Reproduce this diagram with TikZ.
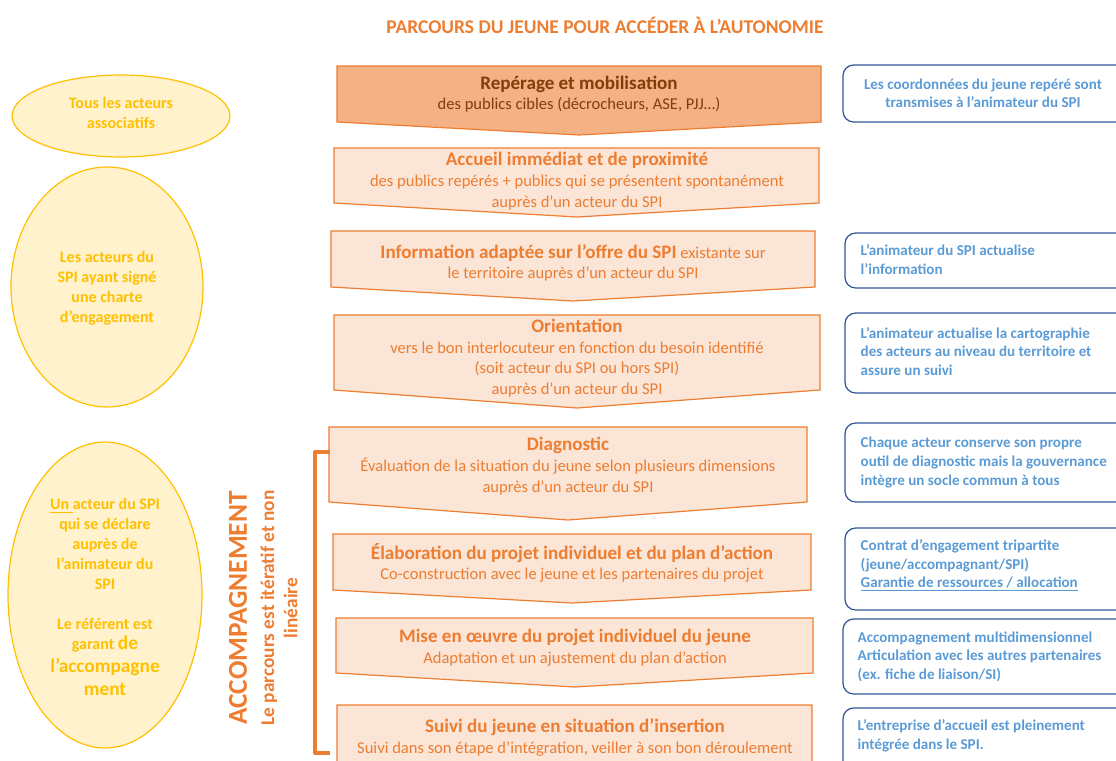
\documentclass[tikz,border=0pt]{standalone}
\usepackage{fontspec}
\setmainfont{Carlito}

\definecolor{orangeline}{HTML}{ED7D31}
\definecolor{orangefill}{HTML}{FBE5D6}
\definecolor{orangedark}{HTML}{F4B183}
\definecolor{brunfonce}{HTML}{843C0C}
\definecolor{jaune}{HTML}{FFC000}
\definecolor{jaunefill}{HTML}{FFF2CC}
\definecolor{bleuline}{HTML}{2F5597}
\definecolor{bleutext}{HTML}{5B9BD5}

\newcommand{\etape}[1]{{\fontsize{14.3}{16}\selectfont\bfseries #1}}

\tikzset{
	chev/.style={draw=orangeline, fill=orangefill, line width=0.9pt},
	chevtext/.style={text=orangeline, align=center, font=\fontsize{12.4}{15.5}\selectfont},
	ell/.style={draw=jaune, fill=jaunefill, line width=0.9pt},
	elltext/.style={text=jaune, align=center, font=\fontsize{12}{15}\selectfont\bfseries},
	infobox/.style={draw=bleuline, line width=0.9pt, rounded corners=8pt},
	infotext/.style={text=bleutext, align=left, font=\fontsize{11.3}{13.9}\selectfont\bfseries}
}

\begin{document}
\begin{tikzpicture}[x=0.75pt, y=-0.75pt]
	\useasboundingbox (0,0) rectangle (1116,760);
	\clip (0,0) rectangle (1116,760);
	% titre
	\node [text=orangeline, font=\fontsize{14.6}{16}\selectfont\bfseries] (titre) at (605,25) {PARCOURS DU JEUNE POUR ACCÉDER À L’AUTONOMIE};

	% les etapes
	\draw [chev, fill=orangedark] (337,66) -- (821,66) -- (821,122) -- (579,135) -- (337,122) -- cycle;
	\node [chevtext, text=brunfonce] (reperage) at (579,94) {\etape{Repérage et mobilisation}\\des publics cibles (décrocheurs, ASE, PJJ…)};

	\draw [chev] (334,148) -- (819,148) -- (819,203) -- (577,217) -- (334,203) -- cycle;
	\node [chevtext] (accueil) at (577,181) {\etape{Accueil immédiat et de proximité}\\des publics repérés + publics qui se présentent spontanément\\auprès d’un acteur du SPI};

	\draw [chev] (331,231) -- (815,231) -- (815,287) -- (573,301) -- (331,287) -- cycle;
	\node [chevtext] (information) at (573,263) {\etape{Information adaptée sur l’offre du SPI} existante sur\\le territoire auprès d’un acteur du SPI};

	\draw [chev] (334,315) -- (820,315) -- (820,390) -- (577,408) -- (334,390) -- cycle;
	\node [chevtext] (orientation) at (577,358) {\etape{Orientation}\\vers le bon interlocuteur en fonction du besoin identifié\\(soit acteur du SPI ou hors SPI)\\auprès d’un acteur du SPI};

	\draw [chev] (329,427) -- (807,427) -- (807,502) -- (568,520) -- (329,502) -- cycle;
	\node [chevtext] (diagnostic) at (568,466) {\etape{Diagnostic}\\Évaluation de la situation du jeune selon plusieurs dimensions\\auprès d’un acteur du SPI};

	\draw [chev] (333,534) -- (811,534) -- (811,590) -- (572,603) -- (333,590) -- cycle;
	\node [chevtext] (elaboration) at (572,563) {\etape{Élaboration du projet individuel et du plan d’action}\\Co-construction avec le jeune et les partenaires du projet};

	\draw [chev] (336,618) -- (813,618) -- (813,673) -- (575,687) -- (336,673) -- cycle;
	\node [chevtext] (miseenoeuvre) at (575,647.5) {\etape{Mise en œuvre du projet individuel du jeune}\\Adaptation et un ajustement du plan d’action};

	\draw [chev] (337,705) -- (812,705) -- (812,770) -- (575,785) -- (337,770) -- cycle;
	\node [chevtext] (suivi) at (575,737.5) {\etape{Suivi du jeune en situation d’insertion}\\Suivi dans son étape d’intégration, veiller à son bon déroulement};

	% accolade accompagnement
	\coordinate (bhaut) at (330,452);
	\coordinate (bbas) at (330,753);
	\draw [orangeline, line width=3pt, line join=round] (bhaut) -- (315,452) -- (315,753) -- (bbas);
	\node [rotate=90, text=orangeline, font=\fontsize{20.5}{22}\selectfont\bfseries] (accomp) at (238,608) {ACCOMPAGNEMENT};
	\node [rotate=90, text=orangeline, align=center, font=\fontsize{14.5}{17.3}\selectfont\bfseries] (iteratif) at (279,608) {Le parcours est itératif et non\\linéaire};

	% les acteurs
	\draw [ell] (121,116) ellipse [x radius=109, y radius=41];
	\node [elltext] (associatifs) at (121,112.5) {Tous les acteurs\\associatifs};
	\draw [ell] (107,287) ellipse [x radius=96, y radius=120];
	\node [elltext] (charte) at (107,288) {Les acteurs du\\SPI ayant signé\\une charte\\d’engagement};
	\draw [ell] (105,595) ellipse [x radius=97, y radius=153];
	\node [elltext] (referent) at (105,597) {\underline{Un }acteur du SPI\\qui se déclare\\auprès de\\l’animateur du\\SPI\\[15pt]Le référent est\\garant {\fontsize{14.5}{16}\selectfont de}\\[2pt]{\fontsize{14.5}{16}\selectfont l’accompagne}\\[2pt]{\fontsize{14.5}{16}\selectfont ment}};

	% role de l'animateur
	\draw [infobox] (843,65) rectangle (1140,122);
	\node [infotext, align=center] (coordonnees) at (983,93.5) {Les coordonnées du jeune repéré sont\\transmises à l’animateur du SPI};
	\draw [infobox] (845,233) rectangle (1140,288);
	\node [infotext, anchor=west] (actualise) at (856,259.5) {L’animateur du SPI actualise\\l’information};
	\draw [infobox] (845,313) rectangle (1140,393);
	\node [infotext, anchor=west] (cartographie) at (856,351.5) {L’animateur actualise la cartographie\\des acteurs au niveau du territoire et\\assure un suivi};
	\draw [infobox] (845,423) rectangle (1140,502);
	\node [infotext, anchor=west] (outil) at (856,462.5) {Chaque acteur conserve son propre\\outil de diagnostic mais la gouvernance\\intègre un socle commun à tous};
	\draw [infobox] (845,528) rectangle (1140,610);
	\node [infotext, anchor=west] (contrat) at (856,565.5) {Contrat d’engagement tripartite\\(jeune/accompagnant/SPI)\\\underline{Garantie de ressources / allocation}};
	\draw [infobox] (843,619) rectangle (1140,694);
	\node [infotext, anchor=west] (multidim) at (853,656.5) {Accompagnement multidimensionnel\\Articulation avec les autres partenaires\\(ex. fiche de liaison/SI)};
	\draw [infobox] (843,708) rectangle (1140,790);
	\node [infotext, anchor=west] (entreprise) at (853,736) {L’entreprise d’accueil est pleinement\\intégrée dans le SPI.};
\end{tikzpicture}
\end{document}
